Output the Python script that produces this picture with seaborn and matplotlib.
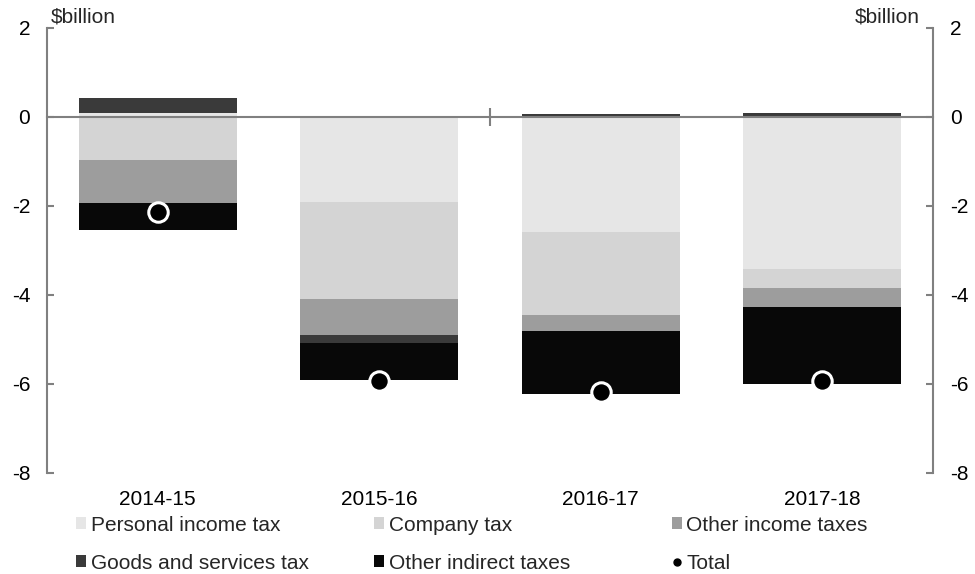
import numpy as np
import matplotlib
matplotlib.use("Agg")
import matplotlib.pyplot as plt
import seaborn as sns
from matplotlib.patches import Patch
from matplotlib.lines import Line2D

# ==========================
# Data ($billion)
# ==========================
years = ["2014-15", "2015-16", "2016-17", "2017-18"]
personal_income = [0.10, -1.91, -2.58, -3.42]
company_tax = [-0.97, -2.19, -1.87, -0.42]
other_income = [-0.96, -0.81, -0.37, -0.44]
gst = [0.32, -0.18, 0.07, 0.10]
other_indirect = [-0.61, -0.83, -1.41, -1.73]
total = [-2.13, -5.93, -6.19, -5.93]

series_names = ["Personal income tax", "Company tax", "Other income taxes",
                "Goods and services tax", "Other indirect taxes"]
series_values = [personal_income, company_tax, other_income, gst, other_indirect]
series_colors = ["#e6e6e6", "#d4d4d4", "#9d9d9d", "#3a3a3a", "#080808"]

# ==========================
# Style
# ==========================
sns.set_style("white")
plt.rcParams["font.family"] = ["Liberation Sans", "DejaVu Sans"]
plt.rcParams["axes.unicode_minus"] = False

axis_grey = "#808080"
fs = 15

fig = plt.figure(figsize=(9.75, 5.74), dpi=100)
ax = fig.add_axes([0.0482, 0.176, 0.9087, 0.7753])

# --- stacked bars (positives stack up, negatives stack down) ---
pos = np.zeros(len(years))
neg = np.zeros(len(years))
for name, vals, col in zip(series_names, series_values, series_colors):
    v = np.array(vals)
    bottom = np.where(v >= 0, pos, neg)
    sns.barplot(x=years, y=v, order=years, bottom=bottom, color=col,
                saturation=1, width=0.715, errorbar=None, linewidth=0, ax=ax)
    pos += np.clip(v, 0, None)
    neg += np.clip(v, None, 0)

# --- total markers ---
sns.stripplot(x=years, y=total, order=years, jitter=False, size=14,
              color="black", edgecolor="white", linewidth=2.2, zorder=5, ax=ax)

# --- axes ---
ax.set_xlim(-0.5, 3.5)
ax.set_ylim(-8, 2)
ax.set_yticks(range(-8, 3, 2))
ax.set_xlabel("")
ax.set_ylabel("")

for side in ["top", "bottom"]:
    ax.spines[side].set_visible(False)
for side in ["left", "right"]:
    ax.spines[side].set_visible(True)
    ax.spines[side].set_color(axis_grey)
    ax.spines[side].set_linewidth(1.5)

ax.tick_params(axis="y", which="both", direction="in", length=5, width=1.5,
               color=axis_grey, left=True, right=True, labelleft=True,
               labelright=True, labelsize=fs, pad=12, labelcolor="black")
ax.tick_params(axis="x", length=0, labelsize=fs, pad=12, labelcolor="black")

# zero line with the single category divider tick
zero = ax.secondary_xaxis(0, transform=ax.transData)
zero.set_xticks([1.5])
zero.set_xticklabels([])
zero.tick_params(direction="inout", length=13, width=1.5, color=axis_grey)
for sp in zero.spines.values():
    sp.set_color(axis_grey)
    sp.set_linewidth(1.5)
zero.set_zorder(4)

# unit labels
ax.text(0.0045, 1.025, "$billion", transform=ax.transAxes, ha="left",
        va="center", fontsize=fs)
ax.text(0.985, 1.025, "$billion", transform=ax.transAxes, ha="right",
        va="center", fontsize=fs)

# ==========================
# Legend: 3 columns x 2 rows
# ==========================
patches = [Patch(facecolor=c, edgecolor="none", label=n)
           for n, c in zip(series_names, series_colors)]
total_handle = Line2D([], [], marker="o", color="black", linestyle="none",
                      markersize=5, label="Total")
columns = [[patches[0], patches[3]], [patches[1], patches[4]],
           [patches[2], total_handle]]
col_x = [0.078, 0.3836, 0.689]
for handles, x in zip(columns, col_x):
    fig.legend(handles=handles, loc="center left", bbox_to_anchor=(x, 0.052),
               frameon=False, fontsize=fs, handlelength=0.5,
               handleheight=0.5, handletextpad=0.2, labelspacing=0.9,
               borderpad=0, borderaxespad=0)

fig.savefig("out.png", dpi=100)
